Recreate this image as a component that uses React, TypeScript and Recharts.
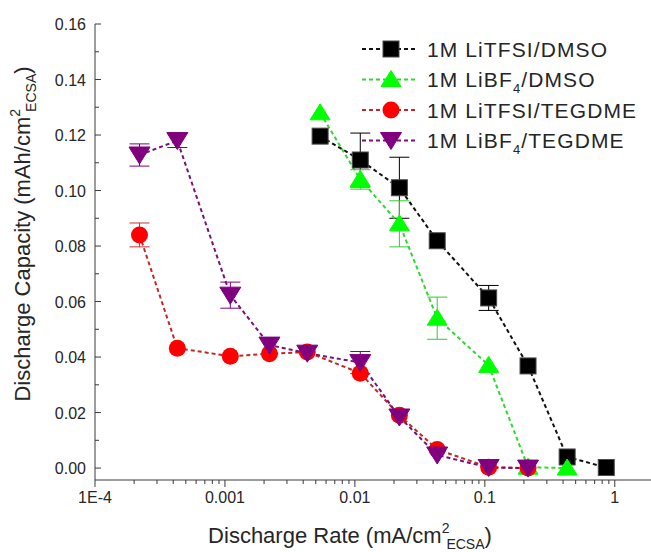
import { LineChart, Line, XAxis, YAxis, ErrorBar, Legend } from "recharts";

// discharge rate (mA/cm2 ECSA) and capacity (mAh/cm2 ECSA)
const dmsoRate = [0.0054, 0.011, 0.022, 0.043, 0.107, 0.215, 0.43, 0.86];
const tfsiDmsoCap = [0.1196, 0.111, 0.101, 0.0819, 0.0613, 0.0368, 0.004, 0.0002];
const tfsiDmsoErr = [0, 0.0097, 0.011, 0, 0.0045, 0, 0, 0];

const bf4DmsoCap = [0.128, 0.104, 0.088, 0.054, 0.037, 0.0003, 0];
const bf4DmsoErr = [0, 0.0035, 0.0083, 0.0076, 0, 0, 0];

const tegRate = [0.00022, 0.00043, 0.0011, 0.0022, 0.0043, 0.011, 0.022, 0.043, 0.107, 0.215];
const tfsiTegCap = [0.084, 0.0432, 0.0403, 0.0412, 0.0418, 0.0342, 0.019, 0.0067, 0.0003, 0];
const tfsiTegErr = [0.0043, 0, 0, 0, 0, 0, 0, 0, 0, 0];
const bf4TegCap = [0.1128, 0.118, 0.0623, 0.0443, 0.0414, 0.038, 0.0184, 0.0047, 0.0002, 0];
const bf4TegErr = [0.004, 0.0025, 0.0047, 0, 0, 0.004, 0, 0, 0, 0];

const xMajor = [0.0001, 0.001, 0.01, 0.1, 1];
const xTickLabels = ["1E-4", "0.001", "0.01", "0.1", "1"];
const xTicks = [
  0.0001, 0.0002, 0.0003, 0.0004, 0.0005, 0.0006, 0.0007, 0.0008, 0.0009,
  0.001, 0.002, 0.003, 0.004, 0.005, 0.006, 0.007, 0.008, 0.009,
  0.01, 0.02, 0.03, 0.04, 0.05, 0.06, 0.07, 0.08, 0.09,
  0.1, 0.2, 0.3, 0.4, 0.5, 0.6, 0.7, 0.8, 0.9,
  1,
];
const yTicks = [0, 0.01, 0.02, 0.03, 0.04, 0.05, 0.06, 0.07, 0.08, 0.09, 0.1, 0.11, 0.12, 0.13, 0.14, 0.15, 0.16];

const AXIS = "#3a3a3a";
const TEXT = "#262626";
const FONT = "'Liberation Sans', Arial, sans-serif";

const toRows = (xs: number[], ys: number[], es: number[]) =>
  xs.map((x, i) => ({ x, y: ys[i], e: es[i] }));

const series = [
  { name: "1M LiTFSI/DMSO", sub: null, tail: "", marker: "square", fill: "#000000", line: "#111111", bar: "#000000", data: toRows(dmsoRate, tfsiDmsoCap, tfsiDmsoErr) },
  { name: "1M LiBF", sub: "4", tail: "/DMSO", marker: "up", fill: "#00ff00", line: "#33d633", bar: "#33cc33", data: toRows(dmsoRate.slice(0, 7), bf4DmsoCap, bf4DmsoErr) },
  { name: "1M LiTFSI/TEGDME", sub: null, tail: "", marker: "circle", fill: "#ff0000", line: "#c02828", bar: "#d03030", data: toRows(tegRate, tfsiTegCap, tfsiTegErr) },
  { name: "1M LiBF", sub: "4", tail: "/TEGDME", marker: "down", fill: "#800080", line: "#7a107a", bar: "#800080", data: toRows(tegRate, bf4TegCap, bf4TegErr) },
];

function Marker({ kind, cx, cy, fill }: any) {
  if (kind === "square")
    return <rect x={cx - 8} y={cy - 8} width={16} height={16} fill={fill} stroke="#4a4a4a" strokeWidth={1} />;
  if (kind === "up")
    return <polygon points={`${cx},${cy - 9} ${cx + 10},${cy + 7} ${cx - 10},${cy + 7}`} fill={fill} stroke={fill} />;
  if (kind === "down")
    return <polygon points={`${cx - 10.5},${cy - 8} ${cx + 10.5},${cy - 8} ${cx},${cy + 9}`} fill={fill} stroke={fill} />;
  return <circle cx={cx} cy={cy} r={8.5} fill={fill} />;
}

const BottomTick = (props: any) => {
  const { x, y, payload } = props;
  const idx = xMajor.findIndex((m) => Math.abs(m - payload.value) / m < 1e-6);
  return (
    <g>
      <line x1={x} x2={x} y1={y} y2={y + (idx >= 0 ? 7 : 4)} stroke={AXIS} />
      {idx >= 0 && (
        <text x={x} y={y + 23} textAnchor="middle" fontSize={16} fill={TEXT} fontFamily={FONT}>
          {xTickLabels[idx]}
        </text>
      )}
    </g>
  );
};

const TopTick = (props: any) => {
  const { x, y, payload } = props;
  const major = xMajor.some((m) => Math.abs(m - payload.value) / m < 1e-6);
  return <line x1={x} x2={x} y1={y} y2={y + (major ? 7 : 4)} stroke={AXIS} />;
};

const LeftTick = (props: any) => {
  const { x, y, payload } = props;
  const major = Math.round(payload.value * 100) % 2 === 0;
  return (
    <g>
      <line x1={x} x2={x + (major ? 6 : 4)} y1={y} y2={y} stroke={AXIS} />
      {major && (
        <text x={x - 9} y={y + 6} textAnchor="end" fontSize={16} fill={TEXT} fontFamily={FONT}>
          {payload.value.toFixed(2)}
        </text>
      )}
    </g>
  );
};

const XTitle = () => (
  <text x={350} y={543} textAnchor="middle" fontSize={22} fill={TEXT} fontFamily={FONT}>
    Discharge Rate (mA/cm
    <tspan dy={-10} fontSize={14}>2</tspan>
    <tspan dy={16} dx={-3} fontSize={14}>ECSA</tspan>
    <tspan dy={-6}>)</tspan>
  </text>
);

const YTitle = () => (
  <text transform="rotate(-90)" x={-234} y={30} textAnchor="middle" fontSize={22} fill={TEXT} fontFamily={FONT}>
    Discharge Capacity (mAh/cm
    <tspan dy={-10} fontSize={14}>2</tspan>
    <tspan dy={16} dx={-3} fontSize={14}>ECSA</tspan>
    <tspan dy={-6}>)</tspan>
  </text>
);

const LegendBox = () => (
  <svg width={290} height={124} style={{ display: "block" }}>
    {series.map((s, i) => {
      const cy = 15 + i * 30.5;
      return (
        <g key={i}>
          <line x1={2} x2={58} y1={cy} y2={cy} stroke={s.line} strokeWidth={2} strokeDasharray="4 3" />
          <Marker kind={s.marker} cx={31} cy={cy} fill={s.fill} />
          <text x={67} y={cy + 7.5} fontSize={21} fill={TEXT} fontFamily={FONT} letterSpacing={1.1}>
            {s.name}
            {s.sub && <tspan dy={6} fontSize={13}>{s.sub}</tspan>}
            {s.sub && <tspan dy={-6}>{s.tail}</tspan>}
          </text>
        </g>
      );
    })}
  </svg>
);

export default function App() {
  return (
    <div style={{ position: "absolute", left: 0, top: 0, width: 651, height: 552, background: "#fff" }}>
      <LineChart width={651} height={552} margin={{ top: 24, right: 0, bottom: 0, left: 0 }}>
        <XAxis
          dataKey="x"
          type="number"
          scale="log"
          domain={[0.0001, 1.9]}
          allowDataOverflow
          ticks={xTicks}
          interval={0}
          height={72}
          tickSize={0}
          tickMargin={0}
          tick={BottomTick}
          stroke={AXIS}
          label={{ content: XTitle }}
        />
        <XAxis
          xAxisId="top"
          orientation="top"
          type="number"
          scale="log"
          domain={[0.0001, 1.9]}
          allowDataOverflow
          ticks={xTicks}
          interval={0}
          height={0}
          tickSize={0}
          tickMargin={0}
          tick={TopTick}
          stroke={AXIS}
        />
        <YAxis
          type="number"
          domain={[-0.0043, 0.16]}
          allowDataOverflow
          ticks={yTicks}
          interval={0}
          width={95}
          tickSize={0}
          tickMargin={0}
          tick={LeftTick}
          stroke={AXIS}
          label={{ content: YTitle }}
        />
        {series.map((s, si) => (
          <Line
            key={si}
            data={s.data}
            dataKey="y"
            name={s.name}
            stroke={s.line}
            strokeWidth={2}
            strokeDasharray="4 3"
            isAnimationActive={false}
            dot={(p: any) => <Marker key={`${si}-${p.index}`} kind={s.marker} cx={p.cx} cy={p.cy} fill={s.fill} />}
            activeDot={false}
          >
            <ErrorBar dataKey="e" width={10} stroke={s.bar} strokeWidth={1} direction="y" />
          </Line>
        ))}
        <Legend
          layout="horizontal"
          verticalAlign="middle"
          align="center"
          content={LegendBox}
          wrapperStyle={{ position: "absolute", top: 34, left: 360, width: 290, height: 124 }}
        />
      </LineChart>
    </div>
  );
}
